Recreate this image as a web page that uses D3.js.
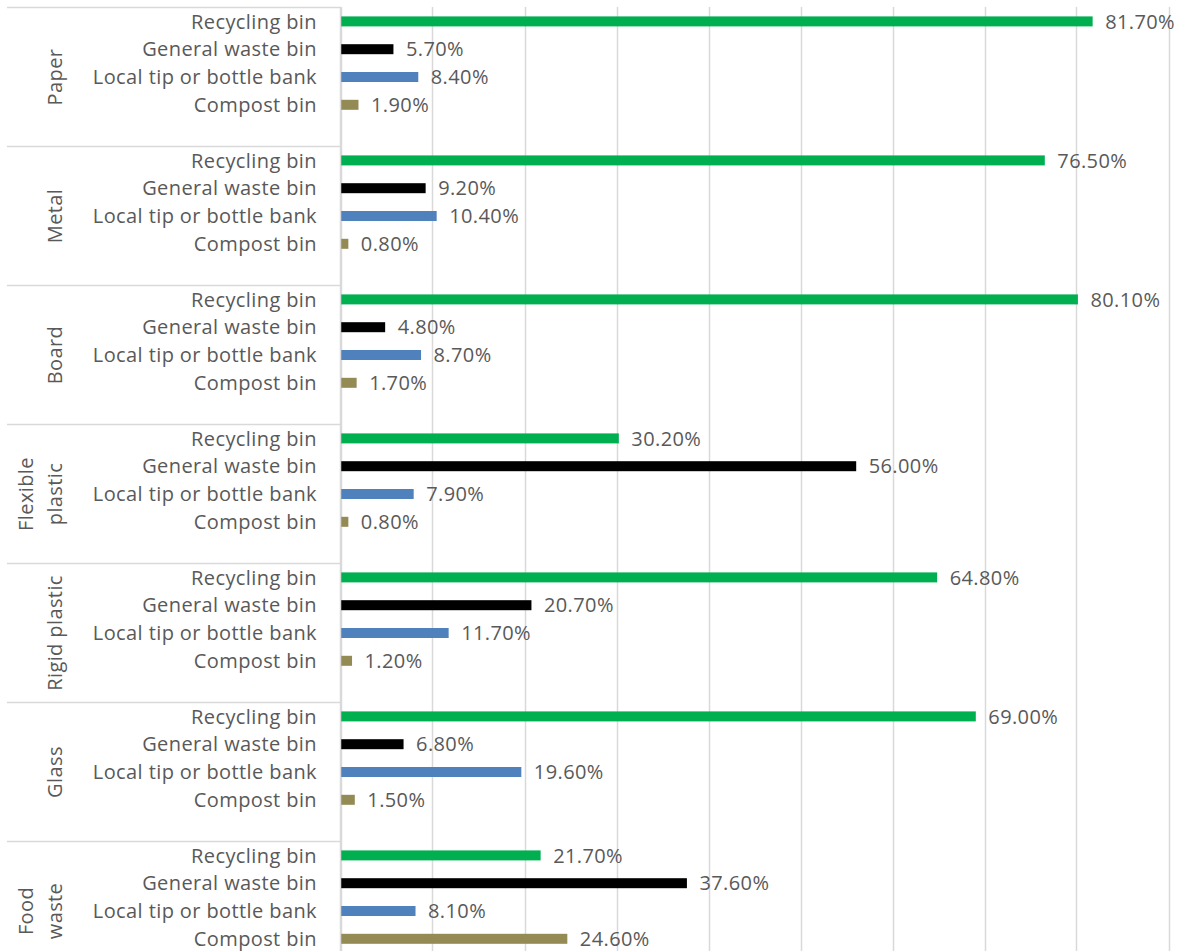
<!doctype html>
<html lang="en">
  <head>
    <meta charset="utf-8">
    <title>Disposal of household waste by material</title>
    <script src="https://d3js.org/d3.v7.min.js"></script>
    <style>
      body { margin: 0; background: #fff; }
      text { font-family: "Open Sans", Lato, sans-serif; fill: #595959; letter-spacing: 0.4px; }
    </style>
  </head>
  <body>
    <div id="chart"></div>
    <script>
    // Categories (top to bottom) and the line breaks of their labels
    var materials = ['Paper', 'Metal', 'Board', 'Flexible plastic', 'Rigid plastic', 'Glass', 'Food waste'];
    var materialLines = [['Paper'], ['Metal'], ['Board'], ['Flexible', 'plastic'], ['Rigid plastic'], ['Glass'], ['Food', 'waste']];
    var destinations = ['Recycling bin', 'General waste bin', 'Local tip or bottle bank', 'Compost bin'];
    var colours = ['#00b050', '#000000', '#4f81bd', '#948a54'];

    // percentages, one array per destination, in material order
    var recycling = [81.7, 76.5, 80.1, 30.2, 64.8, 69.0, 21.7];
    var generalWaste = [5.7, 9.2, 4.8, 56.0, 20.7, 6.8, 37.6];
    var localTip = [8.4, 10.4, 8.7, 7.9, 11.7, 19.6, 8.1];
    var compost = [1.9, 0.8, 1.7, 0.8, 1.2, 1.5, 24.6];
    var gridTicks = [0, 10, 20, 30, 40, 50, 60, 70, 80, 90];

    var series = [recycling, generalWaste, localTip, compost];
    var data = [];
    materials.forEach(function(m, i) {
        destinations.forEach(function(dest, j) {
            data.push({material: m, dest: dest, idx: j, value: series[j][i]});
        });
    });

    var width = 1187, height = 951;
    var svg = d3.select('#chart').append('svg')
        .attr('width', width)
        .attr('height', height);

    // scales
    var x = d3.scaleLinear().domain([0, 90]).range([340.5, 1168.5]);
    var y = d3.scaleBand().domain(materials).range([7.5, 7.5 + 139 * 7]);
    var inner = d3.scaleBand().domain(d3.range(5)).range([0, y.bandwidth()]);
    var colour = d3.scaleOrdinal().domain(destinations).range(colours);
    var barH = 10;

    // vertical gridlines
    svg.append('g').selectAll('line')
        .data(gridTicks)
        .enter().append('line')
        .attr('x1', function(d) { return Math.round(x(d)) + 0.5; })
        .attr('x2', function(d) { return Math.round(x(d)) + 0.5; })
        .attr('y1', 7)
        .attr('y2', height)
        .style('stroke', '#d9d9d9')
        .style('stroke-width', 1.5);

    // horizontal group separators on the left side
    svg.append('g').selectAll('line')
        .data(materials)
        .enter().append('line')
        .attr('x1', 7)
        .attr('x2', 341)
        .attr('y1', function(d) { return y(d); })
        .attr('y2', function(d) { return y(d); })
        .style('stroke', '#d9d9d9')
        .style('stroke-width', 1.5);

    // bars
    var rows = svg.append('g').selectAll('g')
        .data(data)
        .enter().append('g')
        .attr('transform', function(d) {
            return 'translate(0,' + (y(d.material) + inner(d.idx) + inner.bandwidth() / 2) + ')';
        });

    rows.append('rect')
        .attr('x', x(0) + 0.5)
        .attr('y', -barH / 2)
        .attr('width', function(d) { return x(d.value) - x(0); })
        .attr('height', barH)
        .attr('fill', function(d) { return colour(d.dest); });

    // value labels
    rows.append('text')
        .attr('x', function(d) { return x(d.value) + 13; })
        .attr('dy', '0.36em')
        .style('font-size', '20px')
        .text(function(d) { return d.value.toFixed(2) + '%'; });

    // row labels
    rows.append('text')
        .attr('x', 317)
        .attr('dy', '0.36em')
        .attr('text-anchor', 'end')
        .style('font-size', '20px')
        .text(function(d) { return d.dest; });

    // category labels, rotated
    var cats = svg.append('g').selectAll('text')
        .data(materials)
        .enter().append('text')
        .attr('transform', function(d, i) {
            var n = materialLines[i].length;
            var cx = n > 1 ? 40 : 55;
            return 'translate(' + cx + ',' + (y(d) + y.bandwidth() / 2) + ')rotate(-90)';
        })
        .attr('text-anchor', 'middle')
        .style('font-size', '20px');

    cats.selectAll('tspan')
        .data(function(d, i) { return materialLines[i]; })
        .enter().append('tspan')
        .attr('x', 0)
        .attr('y', function(d, j, nodes) { return (j - (nodes.length - 1) / 2) * 29; })
        .attr('dy', '0.36em')
        .text(function(d) { return d; });

    // axis line
    svg.append('line')
        .attr('x1', 340.5).attr('x2', 340.5)
        .attr('y1', 7).attr('y2', height)
        .style('stroke', '#d9d9d9')
        .style('stroke-width', 1.5);
    </script>
  </body>
</html>
